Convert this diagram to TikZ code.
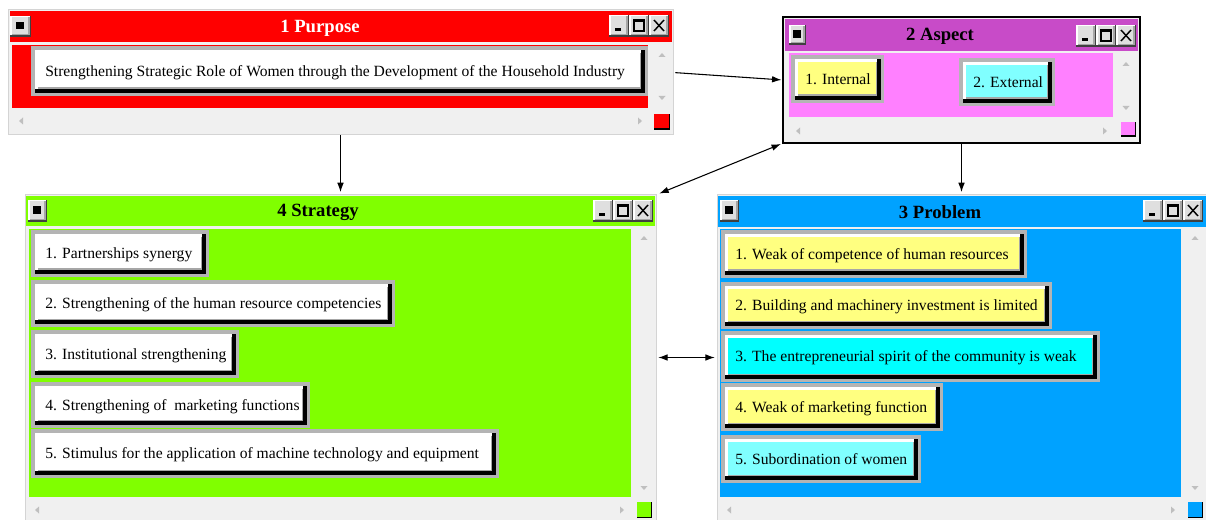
\documentclass[tikz,border=0pt]{standalone}
\usepackage{fontspec}
\setmainfont{Liberation Serif}
\usetikzlibrary{arrows.meta,fit}
\definecolor{chrome}{HTML}{F0F0F0}
\definecolor{chromeedge}{HTML}{D4D4D4}
\definecolor{frameg}{HTML}{B4B4B4}
\definecolor{purred}{HTML}{FF0000}
\definecolor{asptitle}{HTML}{C84BC8}
\definecolor{aspbody}{HTML}{FF80FF}
\definecolor{strgreen}{HTML}{80FF00}
\definecolor{problue}{HTML}{00A2FF}
\definecolor{btnyellow}{HTML}{FFFF80}
\definecolor{btncyan}{HTML}{00FFFF}
\definecolor{btnlcyan}{HTML}{80FFFF}
\tikzset{
 btntext/.style={anchor=west,inner sep=0pt,font=\fontsize{11.7}{14}\selectfont,text height=1.6ex,text depth=.3ex},
 wintitle/.style={font=\fontsize{14}{16}\selectfont\bfseries,inner sep=0pt},
 winarea/.style={inner sep=0pt,draw=none},
 link/.style={line width=0.8pt,-{Latex[length=7pt,width=5pt]}},
 dlink/.style={line width=0.8pt,{Latex[length=7pt,width=5pt]}-{Latex[length=7pt,width=5pt]}},
}
% button: name x1 y1 x2 y2 color text
\newcommand\btnbox[7]{%
  \fill[frameg] (#2,#3) rectangle (#4,#5);
  \fill[black] (#2+4,#3+4) rectangle (#4-3,#5-3);
  \fill[white] (#2+4,#3+4) rectangle (#4-7,#5-7);
  \fill[gray!70] (#2+7,#3+7) rectangle (#4-7,#5-7);
  \fill[#6] (#2+7,#3+7) rectangle (#4-8.5,#5-8.5);
  \node[btntext] (#1) at (#2+14,{(#3+#5)/2+1.5}) {#7};
}
\newcommand\rbtn[4]{%
  \fill[black!75] (#1,#2) rectangle (#3,#4);
  \fill[white] (#1,#2) rectangle (#3-1.5,#4-1.5);
  \fill[gray!70] (#1+1.5,#2+1.5) rectangle (#3-1.5,#4-1.5);
  \fill[chrome!85!gray] (#1+1.5,#2+1.5) rectangle (#3-3,#4-3);
}
\newcommand\ctlset[2]{%
  \rbtn{#1}{#2}{#1+20}{#2+22}
  \rbtn{#1+20}{#2}{#1+40}{#2+22}
  \rbtn{#1+40}{#2}{#1+60}{#2+22}
  \fill[black] (#1+6,#2+13.5) rectangle (#1+12,#2+16.5);
  \draw[black,line width=0.9pt] (#1+25,#2+5) rectangle (#1+35,#2+16);
  \fill[black] (#1+25,#2+5) rectangle (#1+35,#2+7);
  \draw[black,line width=1.1pt] (#1+45,#2+5) -- (#1+55,#2+16) (#1+55,#2+5) -- (#1+45,#2+16);
}
\newcommand\sysicon[4]{%
  \rbtn{#1}{#2}{#3}{#4}
  \fill[black] ({(#1+#3)/2-4.5},{(#2+#4)/2-4.5}) rectangle ({(#1+#3)/2+3},{(#2+#4)/2+3});
}
\newcommand\scrUp[2]{\fill[gray!50] (#1-3.5,#2+2) -- (#1+3.5,#2+2) -- (#1,#2-2) -- cycle;}
\newcommand\scrDown[2]{\fill[gray!50] (#1-3.5,#2-2) -- (#1+3.5,#2-2) -- (#1,#2+2) -- cycle;}
\newcommand\scrLeft[2]{\fill[gray!50] (#1+2,#2-3.5) -- (#1+2,#2+3.5) -- (#1-2,#2) -- cycle;}
\newcommand\scrRight[2]{\fill[gray!50] (#1-2,#2-3.5) -- (#1-2,#2+3.5) -- (#1+2,#2) -- cycle;}
\newcommand\cornersq[5]{\fill[black] (#1,#2) rectangle (#3,#4); \fill[#5] (#1,#2) rectangle (#3-1.5,#4-1.5);}
\begin{document}
\begin{tikzpicture}[x=0.75pt,y=-0.75pt]
\useasboundingbox (0,0) rectangle (1206,520);
\fill[white] (0,0) rectangle (1206,520);

% ---------- 1 Purpose ----------
\fill[chrome] (8,10) rectangle (673,135);
\draw[chromeedge,line width=0.75pt] (8,10) rectangle (673,135);
\fill[purred] (10,11) rectangle (672,42);
\sysicon{10}{16}{31}{37}
\ctlset{609}{15}
\node[wintitle,text=white] (t1) at (320,28) {1 Purpose};
\fill[purred] (12,45) rectangle (648,108);
\scrUp{662}{55}\scrDown{662}{98}
\scrLeft{21}{121}\scrRight{640}{121}
\cornersq{654}{114}{670}{130}{purred}
\btnbox{p1}{31}{46}{648}{96}{white}{Strengthening Strategic Role of Women through the Development of the Household Industry}

% ---------- 2 Aspect ----------
\fill[chrome] (783,17) rectangle (1140,143);
\fill[asptitle] (785,19) rectangle (1138,51);
\sysicon{789}{25}{806}{45}
\ctlset{1076}{25}
\node[wintitle,text=black] (t2) at (940,36) {2 Aspect};
\fill[aspbody] (789,53) rectangle (1113,117);
\scrUp{1126}{64}\scrDown{1126}{108}
\scrLeft{798}{131}\scrRight{1105}{131}
\cornersq{1121}{122}{1136}{137}{aspbody}
\btnbox{a1}{791}{55}{884}{103}{btnyellow}{1. Internal}
\btnbox{a2}{959}{58}{1055}{106}{btnlcyan}{2. External}
\draw[black,line width=2pt] (783,17) rectangle (1140,143);

% ---------- 4 Strategy ----------
\fill[chrome] (25,195) rectangle (656,522);
\draw[chromeedge,line width=0.75pt] (25,195) rectangle (656,522);
\fill[strgreen] (26,196) rectangle (655,226);
\sysicon{28}{200}{47}{222}
\ctlset{593}{200}
\node[wintitle,text=black] (t4) at (318,212) {4 Strategy};
\fill[strgreen] (29,229) rectangle (631,497);
\scrUp{644}{238}\scrDown{644}{488}
\scrLeft{37}{510}\scrRight{622}{510}
\cornersq{637}{502}{652}{518}{strgreen}
\btnbox{s1}{31}{230}{209}{277}{white}{1. Partnerships synergy}
\btnbox{s2}{31}{280}{395}{327}{white}{2. Strengthening of the human resource competencies}
\btnbox{s3}{31}{330}{239}{378}{white}{3. Institutional strengthening}
\btnbox{s4}{31}{382}{310}{428}{white}{4. Strengthening of\ \ marketing functions}
\btnbox{s5}{31}{429}{499}{478}{white}{5. Stimulus for the application of machine technology and equipment}

% ---------- 3 Problem ----------
\fill[chrome] (717,195) rectangle (1208,522);
\draw[chromeedge,line width=0.75pt] (717,195) rectangle (1208,522);
\fill[problue] (718,196) rectangle (1206,227);
\sysicon{720}{200}{739}{222}
\ctlset{1143}{200}
\node[wintitle,text=black] (t3) at (940,212) {3 Problem};
\fill[problue] (720,229) rectangle (1181,497);
\scrUp{1195}{238}\scrDown{1195}{488}
\scrLeft{729}{510}\scrRight{1173}{510}
\cornersq{1188}{502}{1203}{518}{problue}
\btnbox{r1}{721}{230}{1027}{278}{btnyellow}{1. Weak of competence of human resources}
\btnbox{r2}{721}{282}{1052}{329}{btnyellow}{2. Building and machinery investment is limited}
\btnbox{r3}{721}{331}{1100}{382}{btncyan}{3. The entrepreneurial spirit of the community is weak}
\btnbox{r4}{721}{383}{943}{431}{btnyellow}{4. Weak of marketing function}
\btnbox{r5}{721}{435}{921}{483}{btnlcyan}{5. Subordination of women}

% ---------- window areas ----------
\path (8,10) coordinate (pa) (673,135) coordinate (pb)
      (783,17) coordinate (aa) (1140,143) coordinate (ab)
      (25,195) coordinate (sa) (656,520) coordinate (sb)
      (717,195) coordinate (ra) (1206,520) coordinate (rb);
\node[winarea,fit=(pa)(pb)] (purpose) {};
\node[winarea,fit=(aa)(ab)] (aspect) {};
\node[winarea,fit=(sa)(sb)] (strategy) {};
\node[winarea,fit=(ra)(rb)] (problem) {};

% ---------- connectors ----------
\draw[link,shorten <=1.5pt,shorten >=1pt] (purpose.east) -- (aspect.west);
\draw[link,shorten >=2pt] (purpose.south) -- (purpose.south |- strategy.north);
\draw[link,shorten >=2pt] (aspect.south) -- (aspect.south |- problem.north);
\draw[dlink,shorten <=1.5pt,shorten >=2.5pt] (aspect.south west) -- (strategy.north east);
\draw[dlink,shorten <=1.5pt,shorten >=1.5pt] (strategy.east) -- (problem.west);
\end{tikzpicture}
\end{document}
